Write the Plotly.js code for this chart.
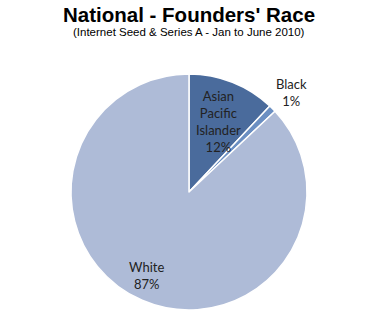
<!DOCTYPE html>
<html>
<head>
<meta charset="utf-8">
<script src="https://cdn.plot.ly/plotly-3.0.1.min.js"></script>
<style>html,body{margin:0;padding:0;background:#fff;}#chart{width:387px;height:330px;}</style>
</head>
<body>
<div id="chart"></div>
<script>
const categories = ["Asian Pacific Islander", "Black", "White"];
const labelLines = ["Asian<br>Pacific<br>Islander", "Black", "White"];
const values = [12, 1, 87];
const colors = ["#4a6b9c", "#6b8fc2", "#aebbd7"];

const labelPos = [
  {x: 218, y: 122},
  {x: 291, y: 92},
  {x: 146, y: 275}
];
const W = 387, H = 330;

const annotations = categories.map((c, i) => ({
  text: labelLines[i] + "<br>" + values[i] + "%",
  x: labelPos[i].x / W, y: 1 - labelPos[i].y / H,
  xref: "paper", yref: "paper", showarrow: false,
  xanchor: "center", yanchor: "middle",
  font: {family: "Lato, 'Open Sans', sans-serif", size: 13, color: "#222"}
}));

annotations.push({
  text: "<b>National - Founders' Race</b>",
  x: 189 / W, y: 1 - 14 / H, xref: "paper", yref: "paper", showarrow: false,
  xanchor: "center", yanchor: "middle",
  font: {family: "Liberation Sans, Arial, sans-serif", size: 20.5, color: "#000"}
});
annotations.push({
  text: "(Internet Seed & Series A - Jan to June 2010)",
  x: 189 / W, y: 1 - 32 / H, xref: "paper", yref: "paper", showarrow: false,
  xanchor: "center", yanchor: "middle",
  font: {family: "Liberation Sans, Arial, sans-serif", size: 11.5, color: "#000"}
});

Plotly.newPlot("chart", [{
  type: "pie",
  labels: categories,
  values: values,
  sort: false,
  direction: "clockwise",
  rotation: 0,
  textinfo: "none",
  hoverinfo: "label+percent",
  marker: {colors: colors, line: {color: "#ffffff", width: 1.5}},
  domain: {x: [71 / W, 307 / W], y: [1 - 310 / H, 1 - 74 / H]}
}], {
  width: W, height: H,
  margin: {l: 0, r: 0, t: 0, b: 0},
  showlegend: false,
  paper_bgcolor: "#fff",
  annotations: annotations
}, {staticPlot: true});
</script>
</body>
</html>
